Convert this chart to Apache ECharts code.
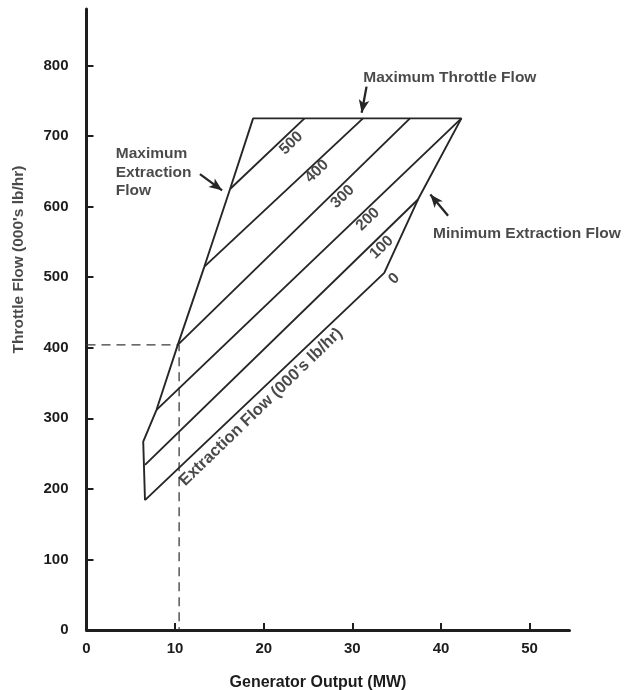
<!DOCTYPE html>
<html>
<head>
<meta charset="utf-8">
<script src="https://cdn.jsdelivr.net/npm/echarts@6/dist/echarts.min.js"></script>
<style>
html,body{margin:0;padding:0;background:#ffffff;}
#chart{width:624px;height:690px;}
</style>
</head>
<body>
<div id="chart"></div>
<script>
// ---- data ----
const xTicks = [0, 10, 20, 30, 40, 50];
const yTicks = [0, 100, 200, 300, 400, 500, 600, 700, 800];

// operating envelope outline (Generator Output MW, Throttle Flow 000's lb/hr)
const boundaryX = [6.6, 6.4, 7.9, 10.3, 13.3, 16.2, 18.8, 42.3, 37.4, 33.6, 6.6];
const boundaryY = [184, 267, 312, 404, 515, 625, 725, 725, 610, 506, 184];

// constant extraction-flow lines (000's lb/hr)
const extractionLevels = ['100', '200', '300', '400', '500'];
const lineStartX = [6.6, 7.9, 10.3, 13.3, 16.2];
const lineStartY = [234, 312, 404, 515, 625];
const lineEndX = [37.4, 42.3, 36.5, 31.2, 24.6];
const lineEndY = [610, 725, 725, 725, 725];

// line label anchors
const levelLabels = ['0', '100', '200', '300', '400', '500'];
const levelLabelX = [34.7, 33.3, 31.75, 28.9, 26.0, 23.1];
const levelLabelY = [498, 542, 582, 614, 650, 690];

// sample reading (dashed)
const sampleX = [0, 10.45, 10.45];
const sampleY = [404, 404, 0];

// annotations
const annoText = ['Maximum Throttle Flow', 'Maximum\nExtraction\nFlow', 'Minimum Extraction Flow', "Extraction Flow (000's lb/hr)", "Throttle Flow (000's lb/hr)"];
const annoX = [41.0, 3.3, 39.1, 19.7, -7.6];
const annoY = [782, 648, 562, 316, 525];
const arrowFrom = [[31.6, 770], [12.8, 646], [40.8, 587]];
const arrowTo = [[31.05, 733], [15.3, 623], [38.8, 617]];

// ---- chart ----
const ink = '#1c1c1c';
const font = '"Liberation Sans", Arial, Helvetica, sans-serif';
const chart = echarts.init(document.getElementById('chart'), null, {renderer: 'canvas'});

const zip = (a, b) => a.map((v, i) => [v, b[i]]);

const series = [];
series.push({
  type: 'line', data: zip(boundaryX, boundaryY), symbol: 'none', silent: true,
  lineStyle: {color: '#262626', width: 1.9}, z: 3
});
extractionLevels.forEach((lv, i) => {
  series.push({
    type: 'line', name: lv, symbol: 'none', silent: true,
    data: [[lineStartX[i], lineStartY[i]], [lineEndX[i], lineEndY[i]]],
    lineStyle: {color: '#262626', width: 1.9}, z: 3
  });
});
series.push({
  type: 'line', data: zip(sampleX, sampleY), symbol: 'none', silent: true,
  lineStyle: {color: '#3a3a3a', width: 1.3, type: [9, 6]}, z: 2
});
series.push({
  type: 'scatter', silent: true, symbolSize: 1,
  itemStyle: {color: 'transparent'},
  data: levelLabels.map((t, i) => ({value: [levelLabelX[i], levelLabelY[i]], name: t})),
  label: {
    show: true, position: 'inside', formatter: p => p.name, rotate: 44,
    color: ink, fontFamily: font, fontWeight: 'bold', fontSize: 15.5,
    align: 'center', verticalAlign: 'middle'
  }, z: 4
});
series.push({
  type: 'scatter', silent: true, symbolSize: 1, clip: false,
  itemStyle: {color: 'transparent'},
  data: annoText.map((t, i) => {
    const d = {value: [annoX[i], annoY[i]], name: t};
    if (i === 1) d.label = {align: 'left', lineHeight: 18.5};
    if (i === 2) d.label = {align: 'left'};
    if (i === 3) d.label = {rotate: 44, fontSize: 16.5};
    if (i === 4) d.label = {rotate: 90, fontSize: 15.5};
    return d;
  }),
  label: {
    show: true, position: 'inside', formatter: p => p.name,
    color: ink, fontFamily: font, fontWeight: 'bold', fontSize: 15.5,
    align: 'center', verticalAlign: 'middle'
  },
  markLine: {
    silent: true, symbol: ['none', 'arrow'], symbolSize: [8, 13],
    label: {show: false},
    lineStyle: {color: '#262626', width: 2.3, type: 'solid'},
    data: arrowFrom.map((f, i) => [{coord: f}, {coord: arrowTo[i]}])
  }, z: 4
});

chart.setOption({
  animation: false,
  backgroundColor: '#ffffff',
  grid: {left: 86.5, top: 9, width: 483, height: 621, outerBoundsMode: 'none', containLabel: false},
  xAxis: {
    type: 'value', min: 0, max: 54.5, interval: 10,
    name: 'Generator Output (MW)', nameLocation: 'middle', nameGap: 45,
    nameTextStyle: {color: ink, fontFamily: font, fontWeight: 'bold', fontSize: 16, padding: [0, 20, 0, 0]},
    axisLine: {show: true, lineStyle: {color: '#1e1e1e', width: 3}},
    axisTick: {show: true, inside: true, length: 7, lineStyle: {color: '#1e1e1e', width: 2}, customValues: xTicks},
    axisLabel: {color: ink, fontFamily: font, fontWeight: 'bold', fontSize: 15, margin: 11, customValues: xTicks},
    splitLine: {show: false}
  },
  yAxis: {
    type: 'value', min: 0, max: 880, interval: 100,
    axisLine: {show: true, lineStyle: {color: '#1e1e1e', width: 3}},
    axisTick: {show: true, inside: true, length: 7, lineStyle: {color: '#1e1e1e', width: 2}, customValues: yTicks},
    axisLabel: {color: ink, fontFamily: font, fontWeight: 'bold', fontSize: 15, margin: 18, customValues: yTicks},
    splitLine: {show: false}
  },
  series: series
});
</script>
</body>
</html>
